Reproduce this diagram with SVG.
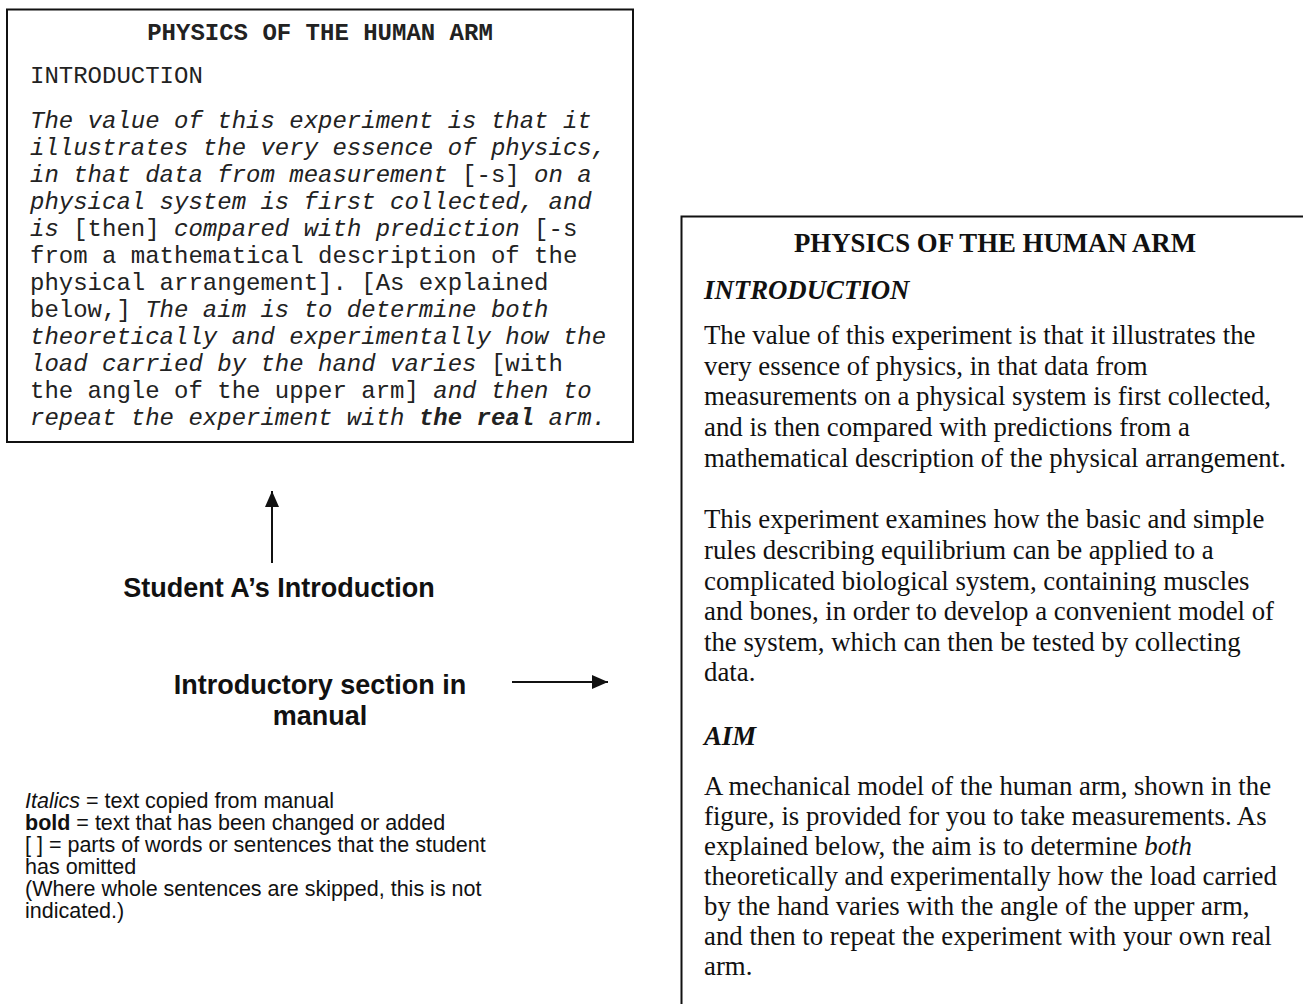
<svg xmlns="http://www.w3.org/2000/svg" width="1303" height="1004" viewBox="0 0 1303 1004">
<style>
.mono{font-family:"Liberation Mono","Courier New",monospace;font-size:24px;fill:#222}
.it{font-style:italic}
.b{font-weight:bold}
.serif{font-family:"Liberation Serif","Times New Roman",serif;font-size:26.8px;fill:#111}
.sans{font-family:"Liberation Sans",Arial,sans-serif;fill:#111}
.leg{font-size:21.5px}
.lbl{font-size:27px;font-weight:bold}
.box{fill:none;stroke:#111;stroke-width:2}
.conn{stroke:#111;stroke-width:2;fill:none}
</style>
<defs>
<marker id="ah2" viewBox="0 0 16 14" refX="16" refY="7" markerWidth="16" markerHeight="14" markerUnits="userSpaceOnUse" orient="auto">
<path d="M0,0 L16,7 L0,14 z" fill="#111"/>
</marker>
</defs>
<rect width="1303" height="1004" fill="#fff"/>

<g id="student-intro">
<rect class="box" x="7" y="9.5" width="626" height="432.5"/>
<text class="mono b" x="320" y="40" text-anchor="middle">PHYSICS OF THE HUMAN ARM</text>
<text class="mono" x="30" y="83">INTRODUCTION</text>
<text class="mono" x="30" y="128"><tspan class="it">The value of this experiment is that it</tspan></text>
<text class="mono" x="30" y="155"><tspan class="it">illustrates the very essence of physics,</tspan></text>
<text class="mono" x="30" y="182"><tspan class="it">in that data from measurement </tspan><tspan>[-s]</tspan><tspan class="it"> on a</tspan></text>
<text class="mono" x="30" y="209"><tspan class="it">physical system is first collected, and</tspan></text>
<text class="mono" x="30" y="236"><tspan class="it">is </tspan><tspan>[then] </tspan><tspan class="it">compared with prediction </tspan><tspan>[-s</tspan></text>
<text class="mono" x="30" y="263">from a mathematical description of the</text>
<text class="mono" x="30" y="290">physical arrangement]. [As explained</text>
<text class="mono" x="30" y="317"><tspan>below,] </tspan><tspan class="it">The aim is to determine both</tspan></text>
<text class="mono" x="30" y="344"><tspan class="it">theoretically and experimentally how the</tspan></text>
<text class="mono" x="30" y="371"><tspan class="it">load carried by the hand varies </tspan><tspan>[with</tspan></text>
<text class="mono" x="30" y="398"><tspan>the angle of the upper arm] </tspan><tspan class="it">and then to</tspan></text>
<text class="mono" x="30" y="425"><tspan class="it">repeat the experiment with </tspan><tspan class="it b">the real</tspan><tspan class="it"> arm.</tspan></text>
</g>

<g id="manual-intro">
<path class="box" d="M681.5,1006 V216.5 H1306"/>
<text class="serif b" x="995" y="252" text-anchor="middle">PHYSICS OF THE HUMAN ARM</text>
<text class="serif b it" x="704" y="299">INTRODUCTION</text>
<text class="serif" x="704" y="344">The value of this experiment is that it illustrates the</text>
<text class="serif" x="704" y="375">very essence of physics, in that data from</text>
<text class="serif" x="704" y="405">measurements on a physical system is first collected,</text>
<text class="serif" x="704" y="436">and is then compared with predictions from a</text>
<text class="serif" x="704" y="467">mathematical description of the physical arrangement.</text>
<text class="serif" x="704" y="528">This experiment examines how the basic and simple</text>
<text class="serif" x="704" y="559">rules describing equilibrium can be applied to a</text>
<text class="serif" x="704" y="590">complicated biological system, containing muscles</text>
<text class="serif" x="704" y="620">and bones, in order to develop a convenient model of</text>
<text class="serif" x="704" y="651">the system, which can then be tested by collecting</text>
<text class="serif" x="704" y="681">data.</text>
<text class="serif b it" x="704" y="745">AIM</text>
<text class="serif" x="704" y="795">A mechanical model of the human arm, shown in the</text>
<text class="serif" x="704" y="825">figure, is provided for you to take measurements. As</text>
<text class="serif" x="704" y="855">explained below, the aim is to determine <tspan class="it">both</tspan></text>
<text class="serif" x="704" y="885">theoretically and experimentally how the load carried</text>
<text class="serif" x="704" y="915">by the hand varies with the angle of the upper arm,</text>
<text class="serif" x="704" y="945">and then to repeat the experiment with your own real</text>
<text class="serif" x="704" y="975">arm.</text>
</g>

<g id="label-student">
<text class="sans lbl" x="279" y="597" text-anchor="middle">Student A’s Introduction</text>
</g>

<g id="label-manual">
<text class="sans lbl" x="320" y="694" text-anchor="middle">Introductory section in</text>
<text class="sans lbl" x="320" y="725" text-anchor="middle">manual</text>
</g>

<g id="legend">
<text class="sans leg" x="25" y="808"><tspan class="it">Italics</tspan> = text copied from manual</text>
<text class="sans leg" x="25" y="830"><tspan class="b">bold</tspan> = text that has been changed or added</text>
<text class="sans leg" x="25" y="852">[ ] = parts of words or sentences that the student</text>
<text class="sans leg" x="25" y="874">has omitted</text>
<text class="sans leg" x="25" y="896">(Where whole sentences are skipped, this is not</text>
<text class="sans leg" x="25" y="918">indicated.)</text>
</g>

<g id="connectors">
<line class="conn" x1="272" y1="563" x2="272" y2="491" marker-end="url(#ah2)"/>
<line class="conn" x1="512" y1="682" x2="608" y2="682" marker-end="url(#ah2)"/>
</g>
</svg>
